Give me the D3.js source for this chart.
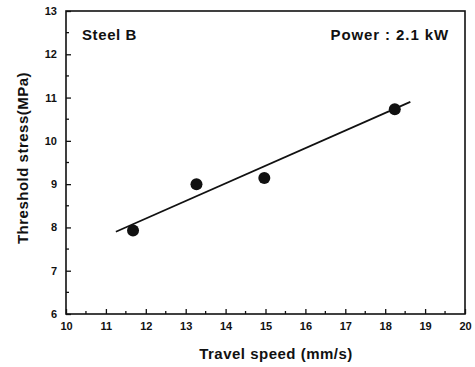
<!DOCTYPE html>
<html>
<head>
<meta charset="utf-8">
<script src="https://cdn.jsdelivr.net/npm/d3@7"></script>
<style>
  body { margin: 0; background: #fff; }
  svg text { font-family: "Liberation Sans", Arial, sans-serif; font-weight: bold; fill: #111; }
</style>
</head>
<body>
<div id="chart-holder"></div>
<script>
// data
var speed = [11.68, 13.27, 14.97, 18.24];
var stress = [7.93, 9.0, 9.14, 10.73];
var fitX = [11.25, 18.63];
var fitY = [7.9, 10.9];
var xTicks = [10, 11, 12, 13, 14, 15, 16, 17, 18, 19, 20];
var yTicks = [6, 7, 8, 9, 10, 11, 12, 13];

var margin = { top: 11, right: 10, bottom: 53, left: 66 },
  width = 475 - margin.left - margin.right,
  height = 367 - margin.top - margin.bottom;

var svg = d3.select("#chart-holder").append("svg")
  .attr("width", 475)
  .attr("height", 367);
var g = svg.append("g")
  .attr("transform", "translate(" + margin.left + "," + margin.top + ")");

var x = d3.scaleLinear().domain([10, 20]).range([0, width]);
var y = d3.scaleLinear().domain([6, 13]).range([height, 0]);

// frame
g.append("rect")
  .attr("width", width).attr("height", height)
  .attr("fill", "none").attr("stroke", "#111").attr("stroke-width", 1.6);

// minor ticks (inward)
var xMinor = d3.range(10.5, 20, 1);
var yMinor = d3.range(6.5, 13, 1);
g.selectAll(".xminor").data(xMinor).enter().append("line")
  .attr("x1", d => x(d)).attr("x2", d => x(d))
  .attr("y1", height).attr("y2", height - 3)
  .attr("stroke", "#111").attr("stroke-width", 1.3);
g.selectAll(".yminor").data(yMinor).enter().append("line")
  .attr("x1", 0).attr("x2", 3)
  .attr("y1", d => y(d)).attr("y2", d => y(d))
  .attr("stroke", "#111").attr("stroke-width", 1.3);

// x axis
var xAxis = g.append("g")
  .attr("transform", "translate(0," + height + ")")
  .call(d3.axisBottom(x).tickValues(xTicks).tickFormat(d3.format("d"))
    .tickSizeInner(-5).tickSizeOuter(0).tickPadding(8));
xAxis.select(".domain").remove();
xAxis.selectAll("line").attr("stroke", "#111").attr("stroke-width", 1.3);
xAxis.selectAll("text").attr("font-size", 11).attr("font-family", "Liberation Sans, Arial, sans-serif").attr("font-weight", "bold");

// y axis
var yAxis = g.append("g")
  .call(d3.axisLeft(y).tickValues(yTicks).tickFormat(d3.format("d"))
    .tickSizeInner(-5).tickSizeOuter(0).tickPadding(9));
yAxis.select(".domain").remove();
yAxis.selectAll("line").attr("stroke", "#111").attr("stroke-width", 1.3);
yAxis.selectAll("text").attr("font-size", 11).attr("font-family", "Liberation Sans, Arial, sans-serif").attr("font-weight", "bold");

// fit line
var line = d3.line().x(d => x(d[0])).y(d => y(d[1]));
g.append("path")
  .datum(d3.zip(fitX, fitY))
  .attr("d", line)
  .attr("fill", "none").attr("stroke", "#111").attr("stroke-width", 1.7);

// points
g.selectAll(".pt").data(d3.zip(speed, stress)).enter().append("circle")
  .attr("cx", d => x(d[0])).attr("cy", d => y(d[1]))
  .attr("r", 6).attr("fill", "#111");

// annotations
g.append("text").attr("x", 16).attr("y", 29)
  .attr("font-size", 15).attr("letter-spacing", 0.6).text("Steel B");
g.append("text").attr("x", width - 16).attr("y", 29)
  .attr("text-anchor", "end").attr("font-size", 15).attr("letter-spacing", 0.9).text("Power : 2.1 kW");

// axis titles
svg.append("text")
  .attr("x", 276).attr("y", 359)
  .attr("text-anchor", "middle").attr("font-size", 15).attr("letter-spacing", 0.5)
  .text("Travel speed (mm/s)");
svg.append("text")
  .attr("transform", "translate(28,158) rotate(-90)")
  .attr("text-anchor", "middle").attr("font-size", 15).attr("letter-spacing", 0.5)
  .text("Threshold stress(MPa)");
</script>
</body>
</html>
